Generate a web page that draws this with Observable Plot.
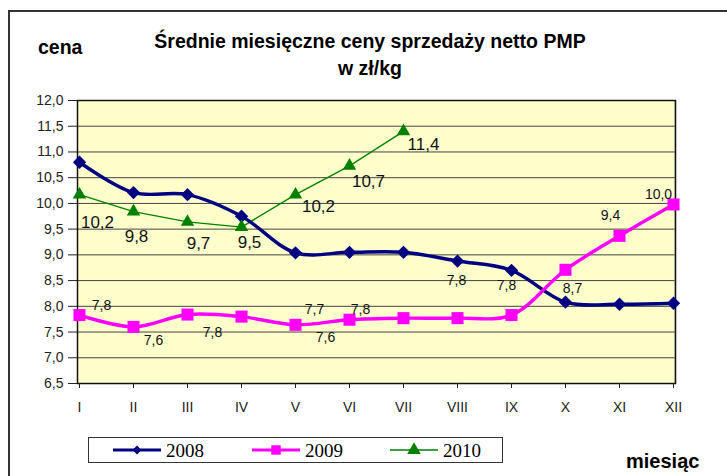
<!DOCTYPE html>
<html><head><meta charset="utf-8">
<script src="https://cdn.jsdelivr.net/npm/d3@7"></script>
<script src="https://cdn.jsdelivr.net/npm/@observablehq/plot@0.6"></script>
<style>
body{margin:0;background:#fff;overflow:hidden;font-family:"Liberation Sans",Arial,sans-serif}
#wrap{position:relative;width:727px;height:476px;overflow:hidden;background:#fff}
#border{position:absolute;left:8px;top:10px;width:800px;height:600px;border:2px solid #333;box-sizing:border-box}
#chart{position:absolute;left:0;top:0}
.t{position:absolute;font-weight:bold;color:#000;white-space:nowrap}
#legend{position:absolute;left:88px;top:437px;width:415px;height:26px;border:1px solid #333;box-sizing:border-box;background:#fff}
</style></head><body>
<div id="wrap">
<div id="border"></div>
<div id="chart"></div>
<div class="t" style="left:0;width:740px;top:28px;text-align:center;font-size:19.5px;line-height:27px">Średnie miesięczne ceny sprzedaży netto PMP<br>w zł/kg</div>
<div class="t" style="left:38px;top:35px;font-size:19.5px;line-height:24px">cena</div>
<div class="t" style="left:626px;top:449px;font-size:20px;line-height:24px">miesiąc</div>
<div id="legend"></div>
</div>
<script>
const months = ["I","II","III","IV","V","VI","VII","VIII","IX","X","XI","XII"];
const yTicks = [6.5,7,7.5,8,8.5,9,9.5,10,10.5,11,11.5,12];
const seriesNames = ["2008","2009","2010"];
const v2008 = [10.80,10.21,10.17,9.75,9.04,9.05,9.05,8.88,8.70,8.08,8.04,8.06];
const v2009 = [7.83,7.60,7.84,7.80,7.64,7.74,7.77,7.77,7.83,8.71,9.37,9.98];
const v2010 = [10.17,9.84,9.64,9.54,10.17,10.73,11.40];
// data labels as shown in the picture: [anchor month, text]
const labels2009 = [["I","7,8"],["II","7,6"],["III","7,8"],["V","7,7"],["V","7,6"],["VI","7,8"],["VIII","7,8"],["IX","7,8"],["X","8,7"],["XI","9,4"],["XII","10,0"]];
const labels2010 = [["I","10,2"],["II","9,8"],["III","9,7"],["IV","9,5"],["V","10,2"],["VI","10,7"],["VII","11,4"]];

const colors = {"2008":"#000080","2009":"#FF00FF","2010":"#008000"};
const toRows = (vals, s) => vals.map((v,i)=>({series:s, month:months[i], value:v}));
const d2008 = toRows(v2008,"2008"), d2009 = toRows(v2009,"2009"), d2010 = toRows(v2010,"2010");
const lookup = (rows, m) => rows.find(r=>r.month===m).value;

// label offsets (pixels) — styling, in order of the label lists
const off2009 = [[22,-10],[20,14],[25,18],[19,-15],[30,13],[11,-10],[-1,-38],[-5,-30],[7,19],[-9,-20],[-15,-10]];
const off2010 = [[18,28],[3,25],[11,22],[8,15],[23,12],[19,16],[20,13]];

const fmt = d => d.toFixed(1).replace(".", ",");

const labelMarks = [];
labels2009.forEach(([m,t],i)=>{
  labelMarks.push(Plot.text([{month:m, value:lookup(d2009,m), t}], {x:"month", y:"value", text:"t", dx:off2009[i][0], dy:off2009[i][1], fontSize:14, fill:"#111"}));
});
labels2010.forEach(([m,t],i)=>{
  labelMarks.push(Plot.text([{month:m, value:lookup(d2010,m), t}], {x:"month", y:"value", text:"t", dx:off2010[i][0], dy:off2010[i][1], fontSize:17, fill:"#111"}));
});

const chart = Plot.plot({
  width:727, height:476,
  marginLeft:77, marginRight:52, marginTop:100, marginBottom:93,
  x:{type:"point", domain:months, padding:0},
  y:{domain:[6.5,12]},
  style:{fontFamily:'"Liberation Sans",Arial,sans-serif', background:"transparent", color:"#222"},
  marks:[
    Plot.frame({fill:"#FFFFCC"}),
    Plot.ruleY(yTicks, {stroke:"#444", strokeWidth:1}),
    Plot.ruleX([months[11]], {stroke:"#aaa", strokeWidth:1.5, dx:1.8}),
    Plot.frame({stroke:"#111", strokeWidth:1.5}),
    Plot.axisY({ticks:yTicks, tickFormat:fmt, tickSize:9, tickPadding:5, fontSize:14, label:null, stroke:"#222"}),
    Plot.axisX({tickSize:5, tickPadding:14, fontSize:14, label:null, stroke:"#222"}),
    Plot.line(d2010, {x:"month", y:"value", stroke:colors["2010"], strokeWidth:1.3}),
    Plot.line(d2008, {x:"month", y:"value", stroke:colors["2008"], strokeWidth:3.4, curve:"catmull-rom"}),
    Plot.line(d2009, {x:"month", y:"value", stroke:colors["2009"], strokeWidth:3.4, curve:"catmull-rom"}),
    Plot.dot(d2008, {x:"month", y:"value", symbol:"diamond2", r:6, fill:colors["2008"], stroke:"none"}),
    Plot.dot(d2009, {x:"month", y:"value", symbol:"square", r:6.8, fill:colors["2009"], stroke:"none"}),
    Plot.dot(d2010, {x:"month", y:"value", symbol:"triangle", r:5, fill:colors["2010"], stroke:"none"}),
    ...labelMarks
  ]
});
document.getElementById("chart").appendChild(chart);

// legend
const lg = d3.select("#legend").append("svg").attr("width",413).attr("height",24);
const items = [{s:"2008", x:24, sym:d3.symbolDiamond2, size:50},{s:"2009", x:163, sym:d3.symbolSquare, size:90},{s:"2010", x:301, sym:d3.symbolTriangle, size:80}];
items.forEach(it=>{
  const g = lg.append("g");
  g.append("line").attr("x1",it.x).attr("x2",it.x+48).attr("y1",12).attr("y2",12)
    .attr("stroke",colors[it.s]).attr("stroke-width", it.s==="2010"?1.5:3);
  g.append("path").attr("d", d3.symbol(it.sym, it.size)()).attr("transform",`translate(${it.x+24},12)`).attr("fill",colors[it.s]);
  g.append("text").attr("x",it.x+53).attr("y",18.5).text(it.s)
    .attr("font-family",'"Liberation Serif","Times New Roman",serif').attr("font-size",19).attr("fill","#000");
});
</script>
</body></html>
